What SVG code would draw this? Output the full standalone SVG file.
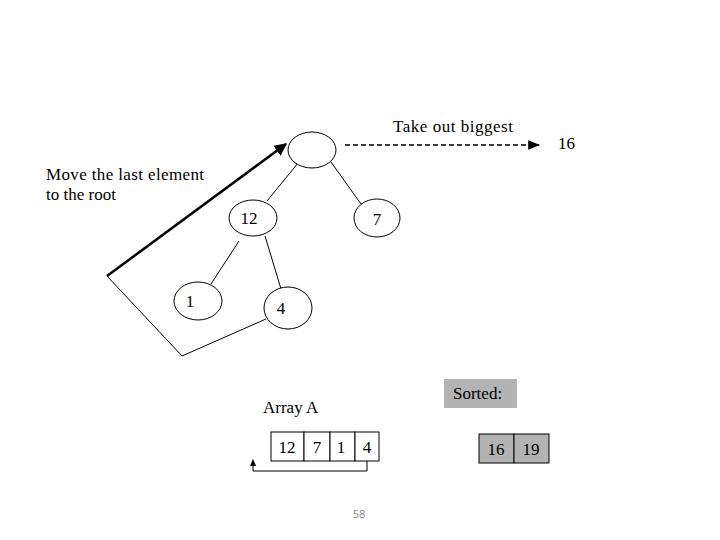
<svg xmlns="http://www.w3.org/2000/svg" width="720" height="540" viewBox="0 0 720 540">
<defs>
<style>
text{font-family:"Liberation Serif","Times New Roman",serif;font-size:17px;fill:#000}
.n{text-anchor:middle}
.node{fill:#fff;stroke:#000;stroke-width:1}
.edge{stroke:#000;stroke-width:1;fill:none}
.gray{fill:#b3b3b3;stroke:none}
.cell{fill:#fff;stroke:#000;stroke-width:1}
.gcell{fill:#b3b3b3;stroke:#000;stroke-width:1}
</style>
<marker id="ah" viewBox="0 0 10 10" refX="9" refY="5" markerWidth="5" markerHeight="5" orient="auto" markerUnits="strokeWidth">
<path d="M0,0 L10,5 L0,10 z" fill="#000"/>
</marker>
<marker id="ahs" viewBox="0 0 10 10" refX="9" refY="5" markerWidth="8" markerHeight="8" orient="auto" markerUnits="strokeWidth">
<path d="M0,1 L10,5 L0,9 z" fill="#000"/>
</marker>
</defs>
<rect width="720" height="540" fill="#fff"/>
<g id="connectors">
<line class="edge" x1="298" y1="163" x2="267" y2="201"/>
<line class="edge" x1="331" y1="162" x2="361" y2="204"/>
<line class="edge" x1="239" y1="241" x2="211" y2="284"/>
<line class="edge" x1="265" y1="236" x2="281" y2="289"/>
<line x1="107" y1="276" x2="286" y2="144" stroke="#000" stroke-width="2.5" marker-end="url(#ah)"/>
<polyline class="edge" points="107,276 182,356 266,319"/>
<line x1="345" y1="145" x2="539" y2="145" stroke="#000" stroke-width="1.5" stroke-dasharray="5,3" marker-end="url(#ahs)"/>
<polyline class="edge" points="367,461 367,471 253,471 253,465"/>
<path d="M250,466 L253,459 L256,466 z" fill="#000"/>
</g>
<g id="node-root"><ellipse class="node" cx="312" cy="150" rx="24" ry="18"/></g>
<g id="node-12"><ellipse class="node" cx="253" cy="218" rx="24" ry="18"/><text class="n" x="249" y="224">12</text></g>
<g id="node-7"><ellipse class="node" cx="377" cy="218" rx="23" ry="19"/><text class="n" x="377" y="225">7</text></g>
<g id="node-1"><ellipse class="node" cx="198" cy="301" rx="24" ry="19"/><text class="n" x="190" y="307">1</text></g>
<g id="node-4"><ellipse class="node" cx="288" cy="308" rx="24" ry="21"/><text class="n" x="281" y="314">4</text></g>
<g id="label-take"><text x="393" y="132" textLength="120">Take out biggest</text></g>
<g id="label-16"><text x="558" y="149">16</text></g>
<g id="label-move"><text x="46" y="180" textLength="158">Move the last element</text><text x="46" y="200">to the root</text></g>
<g id="label-array"><text x="263" y="413">Array A</text></g>
<g id="array-a">
<rect class="cell" x="271" y="432" width="33" height="29"/>
<rect class="cell" x="304" y="432" width="26" height="29"/>
<rect class="cell" x="330" y="432" width="25" height="29"/>
<rect class="cell" x="355" y="432" width="24" height="29"/>
<text class="n" x="287" y="453">12</text>
<text class="n" x="317" y="453">7</text>
<text class="n" x="341" y="453">1</text>
<text class="n" x="367" y="453">4</text>
</g>
<g id="sorted-label"><rect class="gray" x="444" y="379" width="73" height="29"/><text x="453" y="399">Sorted:</text></g>
<g id="sorted-array">
<rect class="gcell" x="479" y="434" width="35" height="29"/>
<rect class="gcell" x="514" y="434" width="35" height="29"/>
<text class="n" x="496" y="455">16</text>
<text class="n" x="531" y="455">19</text>
</g>
<g id="page-number"><text x="359" y="518" style="font-family:'Open Sans','Liberation Sans',sans-serif;font-size:11px;fill:#888;text-anchor:middle">58</text></g>
</svg>
